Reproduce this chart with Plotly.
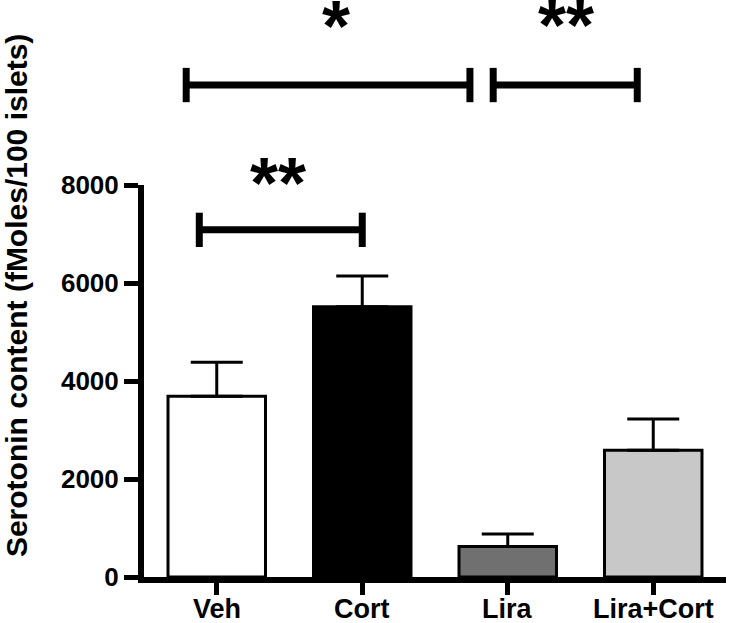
import plotly.graph_objects as go

categories = ["Veh", "Cort", "Lira", "Lira+Cort"]
means = [3690, 5515, 620, 2585]
sem = [695, 628, 260, 642]
bar_colors = ["#ffffff", "#000000", "#707070", "#c8c8c8"]
y_ticks = [0, 2000, 4000, 6000, 8000]

# significance brackets: (x start, x end, level in data units, label, label x, label level)
brackets = [
    (-0.21, 1.74, 10040, "*", 0.82, 11255),
    (1.90, 2.89, 10040, "**", 2.40, 11275),
    (-0.12, 1.00, 7085, "**", 0.42, 8045),
]

YMAX = 8000
FONT = "Liberation Sans, Arial, sans-serif"

fig = go.Figure()
fig.add_trace(go.Bar(
    x=list(range(len(categories))),
    y=means,
    width=0.67,
    marker=dict(color=bar_colors, line=dict(color="black", width=3)),
    error_y=dict(type="data", array=sem, arrayminus=[0] * len(sem), symmetric=False,
                 color="black", thickness=3, width=26),
    showlegend=False,
))

shapes = []
annotations = []
end_half = 350  # half-height of bracket ends in data units
for x0, x1, lvl, lab, lx, ly in brackets:
    yl = lvl / YMAX
    shapes.append(dict(type="line", xref="x", yref="paper", x0=x0, x1=x1, y0=yl, y1=yl,
                       line=dict(color="black", width=7)))
    for xe in (x0, x1):
        shapes.append(dict(type="line", xref="x", yref="paper", x0=xe, x1=xe,
                           y0=(lvl - end_half) / YMAX, y1=(lvl + end_half) / YMAX,
                           line=dict(color="black", width=7)))
    annotations.append(dict(x=lx, y=ly / YMAX, xref="x", yref="paper", text=lab,
                            showarrow=False, xanchor="center", yanchor="middle",
                            font=dict(family=FONT, size=72, color="black", weight="bold")))

# category labels under the x axis
for i, cat in enumerate(categories):
    annotations.append(dict(x=i, y=0, xref="x", yref="paper", text=cat, showarrow=False,
                            xanchor="center", yanchor="top", yshift=-15,
                            font=dict(family=FONT, size=27, color="black", weight="bold")))

annotations.append(dict(x=-0.219, y=0.718, xref="paper", yref="paper",
                        text="Serotonin content (fMoles/100 islets)", textangle=-90,
                        showarrow=False, xanchor="center", yanchor="middle",
                        font=dict(family=FONT, size=30, color="black", weight="bold")))

fig.update_layout(
    width=729, height=623,
    margin=dict(l=144, r=3, t=185, b=46),
    paper_bgcolor="white", plot_bgcolor="white",
    shapes=shapes, annotations=annotations,
    xaxis=dict(range=[-0.5, 3.5], tickvals=list(range(len(categories))),
               showticklabels=False,
               showline=True, linecolor="black", linewidth=6, ticks="outside",
               tickwidth=5, ticklen=12, tickcolor="black", showgrid=False, zeroline=False),
    yaxis=dict(range=[0, YMAX], tickvals=y_ticks, ticktext=[str(v) for v in y_ticks],
               showline=True, linecolor="black", linewidth=6, ticks="outside",
               tickwidth=5, ticklen=14, tickcolor="black", showgrid=False, zeroline=False,
               tickfont=dict(family=FONT, size=26, color="black", weight="bold")),
)

fig.write_html("out.html", config={"displayModeBar": False},
               post_script="document.body.style.margin='0px';"
                           "document.body.style.overflow='hidden';")
